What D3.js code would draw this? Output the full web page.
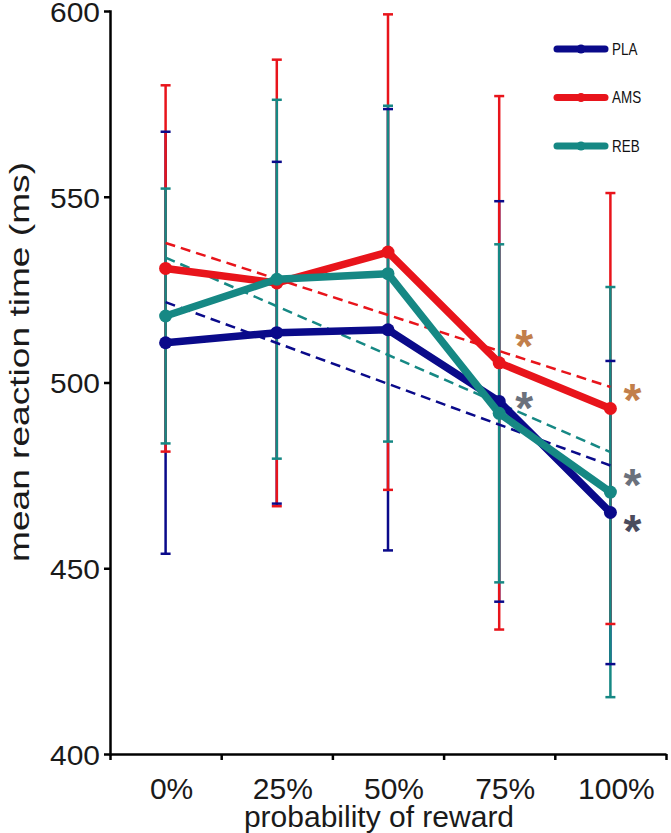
<!DOCTYPE html>
<html><head><meta charset="utf-8">
<script src="https://cdn.jsdelivr.net/npm/d3@7"></script>
<style>
html,body{margin:0;padding:0;background:#fff;}
svg{display:block;}
</style>
</head><body>
<script>
// ---- data ----
const categories = ["0%", "25%", "50%", "75%", "100%"];
const seriesNames = ["PLA", "AMS", "REB"];
const plaMean = [510.7, 513.4, 514.2, 494.9, 465.0];
const plaErr  = [56.8, 46.0, 59.4, 53.9, 40.8];
const amsMean = [530.7, 526.8, 535.1, 505.3, 493.0];
const amsErr  = [49.3, 60.1, 64.0, 71.8, 58.0];
const rebMean = [517.9, 527.8, 529.3, 491.7, 470.5];
const rebErr  = [34.3, 48.3, 45.2, 45.5, 55.2];
const yTicks = [400, 450, 500, 550, 600];
const starCategories = ["75%", "75%", "100%", "100%", "100%"];
const starValues = [512.4, 495.9, 498.0, 475.1, 462.6];
const starKinds = [0, 1, 0, 1, 2];
const xTitle = "probability of reward";
const yTitle = "mean reaction time (ms)";

// ---- styles ----
const seriesColors = ["#0a0a8a", "#e8141b", "#168884"];
const starColors = ["#c27f4b", "#6b717c", "#4b4c5e"];
const FONT = "'Liberation Sans', Arial, Helvetica, sans-serif";

const series = seriesNames.map((name, i) => ({
  name,
  color: seriesColors[i],
  mean: [plaMean, amsMean, rebMean][i],
  err: [plaErr, amsErr, rebErr][i]
}));

const W = 671, H = 833;
const svg = d3.select("body").append("svg").attr("width", W).attr("height", H);

const x = d3.scaleBand().domain(categories).range([110, 666]);
const xb = d3.scaleLinear().domain([0, categories.length]).range([110, 666]);
const y = d3.scaleLinear().domain([400, 600]).range([754, 11]);
const cx = c => x(c) + x.bandwidth() / 2;

// ---- axes ----
const gx = svg.append("g").attr("transform", "translate(0,754)")
  .call(d3.axisBottom(xb).tickValues(d3.range(categories.length + 1)).tickFormat("").tickSize(6).tickSizeOuter(0));
gx.selectAll("path,line").attr("stroke", "#000").attr("stroke-width", 2.5);

const gxl = svg.append("g").attr("transform", "translate(6,754)")
  .call(d3.axisBottom(x).tickSize(0).tickPadding(24));
gxl.select(".domain").remove();
gxl.selectAll("text").attr("font-family", FONT).attr("font-size", 30).attr("fill", "#1a1a1a");

const gy = svg.append("g").attr("transform", "translate(110,0)")
  .call(d3.axisLeft(y).tickValues(yTicks).tickSize(6).tickSizeOuter(0).tickPadding(4));
gy.selectAll("path,line").attr("stroke", "#000").attr("stroke-width", 2.5);
gy.select(".domain").attr("stroke-linecap", "square");
gy.selectAll("text").attr("font-family", FONT).attr("font-size", 27).attr("fill", "#1a1a1a")
  .attr("dy", "0.38em")
  .attr("textLength", 50).attr("lengthAdjust", "spacingAndGlyphs");

svg.append("text").attr("x", 379).attr("y", 827).attr("text-anchor", "middle")
  .attr("font-family", FONT).attr("font-size", 30).attr("fill", "#1a1a1a").text(xTitle);
svg.append("text").attr("transform", "translate(29,362) rotate(-90)").attr("text-anchor", "middle")
  .attr("font-family", FONT).attr("font-size", 28).attr("fill", "#1a1a1a")
  .attr("textLength", 400).attr("lengthAdjust", "spacingAndGlyphs").text(yTitle);

// ---- error bars ----
const eb = svg.append("g");
series.forEach(s => {
  eb.selectAll(null).data(categories).enter().append("line")
    .attr("x1", cx).attr("x2", cx)
    .attr("y1", (c, i) => y(s.mean[i] + s.err[i]))
    .attr("y2", (c, i) => y(s.mean[i] - s.err[i]))
    .attr("stroke", s.color).attr("stroke-width", 2.5);
});
series.forEach(s => {
  [1, -1].forEach(sign => {
    eb.selectAll(null).data(categories).enter().append("line")
      .attr("x1", c => cx(c) - 5).attr("x2", c => cx(c) + 5)
      .attr("y1", (c, i) => y(s.mean[i] + sign * s.err[i]))
      .attr("y2", (c, i) => y(s.mean[i] + sign * s.err[i]))
      .attr("stroke", s.color).attr("stroke-width", 2.5);
  });
});

// ---- linear trend (least squares fit of the means) ----
series.forEach(s => {
  const n = s.mean.length;
  const xs = d3.range(n);
  const mx = d3.mean(xs), my = d3.mean(s.mean);
  const slope = d3.sum(xs, k => (k - mx) * (s.mean[k] - my)) / d3.sum(xs, k => (k - mx) ** 2);
  const f = k => my + slope * (k - mx);
  svg.append("line")
    .attr("x1", cx(categories[0])).attr("x2", cx(categories[n - 1]))
    .attr("y1", y(f(0))).attr("y2", y(f(n - 1)))
    .attr("stroke", s.color).attr("stroke-width", 2.5).attr("stroke-dasharray", "10,6");
});

// ---- series lines ----
const line = d3.line().x((d, i) => cx(categories[i])).y(d => y(d));
series.forEach(s => {
  svg.append("path").datum(s.mean).attr("d", line)
    .attr("fill", "none").attr("stroke", s.color).attr("stroke-width", 7.5)
    .attr("stroke-linejoin", "round").attr("stroke-linecap", "round");
  svg.selectAll(null).data(s.mean).enter().append("circle")
    .attr("cx", (d, i) => cx(categories[i])).attr("cy", d => y(d)).attr("r", 6.5)
    .attr("fill", s.color);
});

// ---- significance asterisks ----
svg.selectAll(null).data(starValues).enter().append("text")
  .attr("x", (d, i) => cx(starCategories[i]) + (starCategories[i] === "100%" ? 22 : 25))
  .attr("y", d => y(d) + 26)
  .attr("text-anchor", "middle")
  .attr("font-family", FONT).attr("font-size", 46).attr("font-weight", "bold")
  .attr("fill", (d, i) => starColors[starKinds[i]])
  .text("*");

// ---- legend ----
const lg = svg.append("g");
series.forEach((s, i) => {
  const ly = 49 + i * 48.5;
  lg.append("line").attr("x1", 557).attr("x2", 605).attr("y1", ly).attr("y2", ly)
    .attr("stroke", s.color).attr("stroke-width", 7).attr("stroke-linecap", "round");
  lg.append("circle").attr("cx", 581).attr("cy", ly).attr("r", 4.5).attr("fill", s.color);
  lg.append("text").attr("transform", `translate(612,${ly + 5.5}) scale(0.84,1)`)
    .attr("font-family", FONT)
    .attr("font-size", 16).attr("fill", "#111").text(s.name);
});
</script>
</body></html>
